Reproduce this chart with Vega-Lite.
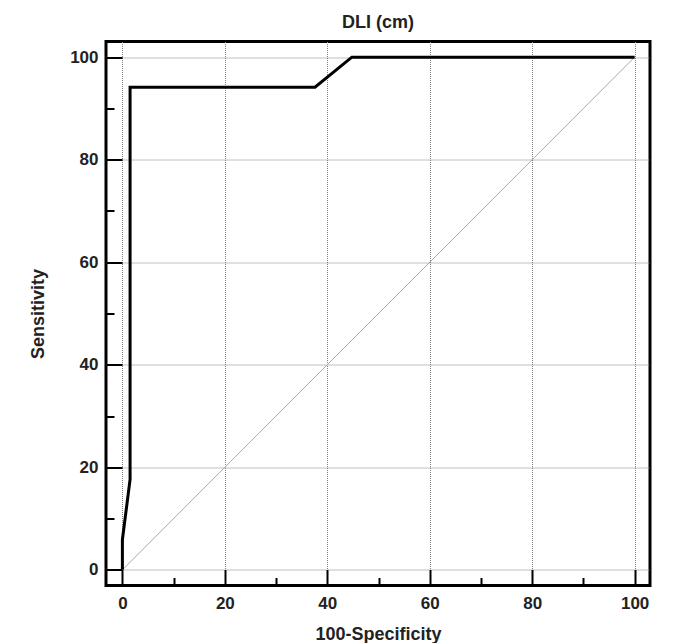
{
  "$schema": "https://vega.github.io/schema/vega-lite/v6.json",
  "width": 544,
  "height": 544,
  "autosize": {"type": "none"},
  "padding": {"left": 106, "top": 41.5, "right": 27, "bottom": 57.5},
  "background": "white",
  "title": {"text": "DLI (cm)", "font": "Liberation Sans", "fontSize": 18, "fontWeight": "bold", "color": "#222", "offset": 10},
  "config": {
    "view": {"stroke": "black", "strokeWidth": 3},
    "axis": {
      "domain": false,
      "values": [0, 5, 10, 15, 20, 25, 30, 35, 40, 45, 50, 55, 60, 65, 70, 75, 80, 85, 90, 95, 100],
      "labelExpr": "datum.value % 20 === 0 ? datum.label : ''",
      "tickSize": {"condition": {"test": "datum.value % 20 === 0", "value": -16}, "value": -8},
      "tickWidth": 2,
      "tickColor": "black",
      "gridOpacity": {"condition": {"test": "datum.value % 20 === 0", "value": 1}, "value": 0},
      "gridColor": "#808080",
      "gridDash": [1, 1],
      "gridWidth": 1,
      "labelFont": "Liberation Sans",
      "labelFontSize": 17,
      "labelFontWeight": "bold",
      "labelColor": "#222",
      "labelFlush": false,
      "titleFont": "Liberation Sans",
      "titleFontSize": 18,
      "titleFontWeight": "bold",
      "titleColor": "#222"
    }
  },
  "datasets": {
    "roc": [
      {"i": 0, "spec": 0, "sens": 0},
      {"i": 1, "spec": 0, "sens": 5.88},
      {"i": 2, "spec": 1.5, "sens": 17.65},
      {"i": 3, "spec": 1.5, "sens": 94.12},
      {"i": 4, "spec": 37.6, "sens": 94.12},
      {"i": 5, "spec": 44.8, "sens": 100},
      {"i": 6, "spec": 100, "sens": 100}
    ],
    "diag": [
      {"i": 0, "spec": 0, "sens": 0},
      {"i": 1, "spec": 100, "sens": 100}
    ]
  },
  "layer": [
    {
      "data": {"name": "diag"},
      "mark": {"type": "line", "color": "#aaaaaa", "strokeWidth": 1},
      "encoding": {
        "x": {"field": "spec", "type": "quantitative", "scale": {"domain": [-3.2, 103], "nice": false, "zero": false}, "axis": {"title": "100-Specificity", "labelPadding": 26, "titlePadding": 14}},
        "y": {"field": "sens", "type": "quantitative", "scale": {"domain": [-3.05, 103.05], "nice": false, "zero": false}, "axis": {"title": "Sensitivity", "labelPadding": 24, "titlePadding": 22}},
        "order": {"field": "i", "type": "quantitative"}
      }
    },
    {
      "data": {"name": "roc"},
      "mark": {"type": "line", "color": "black", "strokeWidth": 3, "strokeJoin": "miter"},
      "encoding": {
        "x": {"field": "spec", "type": "quantitative"},
        "y": {"field": "sens", "type": "quantitative"},
        "order": {"field": "i", "type": "quantitative"}
      }
    }
  ]
}
